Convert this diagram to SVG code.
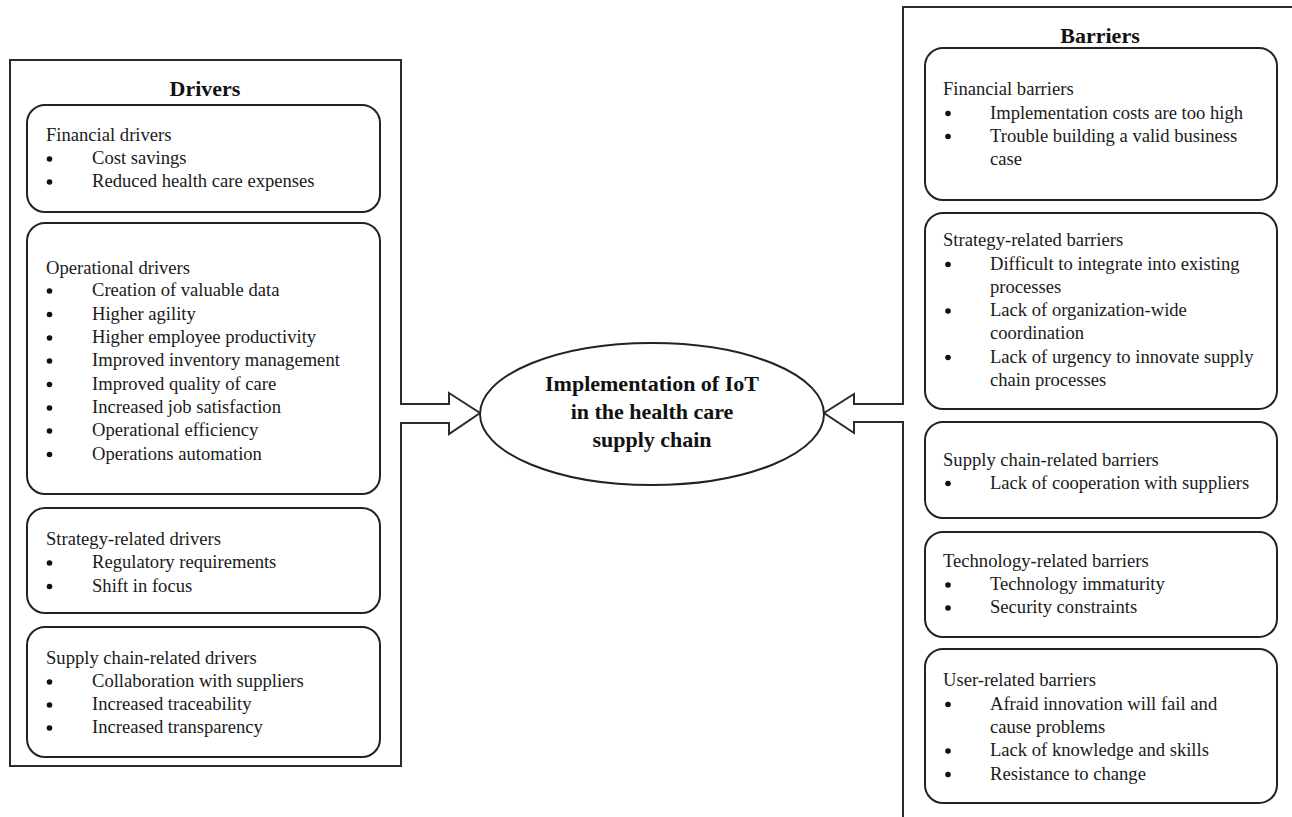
<svg xmlns="http://www.w3.org/2000/svg" width="1292" height="817" viewBox="0 0 1292 817">
<style>
.bg{fill:#ffffff}
.outer{fill:none;stroke:#2b2b2b;stroke-width:2}
.box{fill:#ffffff;stroke:#222;stroke-width:2}
.ell{fill:#ffffff;stroke:#222;stroke-width:2}
.b{fill:#111}
.t{font-family:"Liberation Serif","Times New Roman",serif;font-size:18.6px;fill:#1a1a1a}
.h{font-family:"Liberation Serif","Times New Roman",serif;font-size:22px;font-weight:bold;fill:#111;text-anchor:middle}
</style>
<rect class="bg" x="0" y="0" width="1292" height="817"/>
<g id="connectors">
<path id="drivers-frame" class="outer" d="M10,60 H401 V404 H449 V393 L480,413 L449,434 V423 H401 V766 H10 Z"/>
<path id="barriers-frame" class="outer" d="M1300,7 H903 V404 H854 V394 L824,413 L854,433 V422 H903 V825"/>
</g>
<g id="center-node">
<ellipse class="ell" cx="652" cy="414" rx="172" ry="71"/>
<text class="h" x="652" y="391">Implementation of IoT</text>
<text class="h" x="652" y="419">in the health care</text>
<text class="h" x="652" y="447">supply chain</text>
</g>
<g id="drivers-title"><text class="h" x="205" y="96">Drivers</text></g>
<g id="barriers-title"><text class="h" x="1100" y="43">Barriers</text></g>

<g id="financial-drivers">
<rect class="box" x="27" y="105" width="353" height="107" rx="18"/>
<text class="t" x="46" y="141">Financial drivers</text>
<circle class="b" cx="49.5" cy="159" r="2.8"/><text class="t" x="92" y="164">Cost savings</text>
<circle class="b" cx="49.5" cy="182" r="2.8"/><text class="t" x="92" y="187">Reduced health care expenses</text>
</g>
<g id="operational-drivers">
<rect class="box" x="27" y="223" width="353" height="271" rx="18"/>
<text class="t" x="46" y="274">Operational drivers</text>
<circle class="b" cx="49.5" cy="291" r="2.8"/><text class="t" x="92" y="296">Creation of valuable data</text>
<circle class="b" cx="49.5" cy="314.5" r="2.8"/><text class="t" x="92" y="319.5">Higher agility</text>
<circle class="b" cx="49.5" cy="338" r="2.8"/><text class="t" x="92" y="343">Higher employee productivity</text>
<circle class="b" cx="49.5" cy="361" r="2.8"/><text class="t" x="92" y="366">Improved inventory management</text>
<circle class="b" cx="49.5" cy="384.5" r="2.8"/><text class="t" x="92" y="389.5">Improved quality of care</text>
<circle class="b" cx="49.5" cy="408" r="2.8"/><text class="t" x="92" y="413">Increased job satisfaction</text>
<circle class="b" cx="49.5" cy="431" r="2.8"/><text class="t" x="92" y="436">Operational efficiency</text>
<circle class="b" cx="49.5" cy="454.5" r="2.8"/><text class="t" x="92" y="459.5">Operations automation</text>
</g>
<g id="strategy-drivers">
<rect class="box" x="27" y="508" width="353" height="105" rx="18"/>
<text class="t" x="46" y="545">Strategy-related drivers</text>
<circle class="b" cx="49.5" cy="563" r="2.8"/><text class="t" x="92" y="568">Regulatory requirements</text>
<circle class="b" cx="49.5" cy="586.5" r="2.8"/><text class="t" x="92" y="591.5">Shift in focus</text>
</g>
<g id="supply-chain-drivers">
<rect class="box" x="27" y="627" width="353" height="130" rx="18"/>
<text class="t" x="46" y="663.5">Supply chain-related drivers</text>
<circle class="b" cx="49.5" cy="682" r="2.8"/><text class="t" x="92" y="687">Collaboration with suppliers</text>
<circle class="b" cx="49.5" cy="705" r="2.8"/><text class="t" x="92" y="710">Increased traceability</text>
<circle class="b" cx="49.5" cy="728" r="2.8"/><text class="t" x="92" y="733">Increased transparency</text>
</g>

<g id="financial-barriers">
<rect class="box" x="925" y="48" width="352" height="152" rx="18"/>
<text class="t" x="943" y="95">Financial barriers</text>
<circle class="b" cx="948" cy="113.5" r="2.8"/><text class="t" x="990" y="118.5">Implementation costs are too high</text>
<circle class="b" cx="948" cy="136.5" r="2.8"/><text class="t" x="990" y="141.5">Trouble building a valid business</text>
<text class="t" x="990" y="165">case</text>
</g>
<g id="strategy-barriers">
<rect class="box" x="925" y="213" width="352" height="196" rx="18"/>
<text class="t" x="943" y="246">Strategy-related barriers</text>
<circle class="b" cx="948" cy="264.5" r="2.8"/><text class="t" x="990" y="269.5">Difficult to integrate into existing</text>
<text class="t" x="990" y="292.5">processes</text>
<circle class="b" cx="948" cy="311" r="2.8"/><text class="t" x="990" y="316">Lack of organization-wide</text>
<text class="t" x="990" y="339">coordination</text>
<circle class="b" cx="948" cy="357.5" r="2.8"/><text class="t" x="990" y="362.5">Lack of urgency to innovate supply</text>
<text class="t" x="990" y="386">chain processes</text>
</g>
<g id="supply-chain-barriers">
<rect class="box" x="925" y="422" width="352" height="96" rx="18"/>
<text class="t" x="943" y="465.5">Supply chain-related barriers</text>
<circle class="b" cx="948" cy="483.5" r="2.8"/><text class="t" x="990" y="488.5">Lack of cooperation with suppliers</text>
</g>
<g id="technology-barriers">
<rect class="box" x="925" y="532" width="352" height="105" rx="18"/>
<text class="t" x="943" y="567">Technology-related barriers</text>
<circle class="b" cx="948" cy="585" r="2.8"/><text class="t" x="990" y="590">Technology immaturity</text>
<circle class="b" cx="948" cy="608" r="2.8"/><text class="t" x="990" y="613">Security constraints</text>
</g>
<g id="user-barriers">
<rect class="box" x="925" y="649" width="352" height="154" rx="18"/>
<text class="t" x="943" y="686">User-related barriers</text>
<circle class="b" cx="948" cy="704.5" r="2.8"/><text class="t" x="990" y="709.5">Afraid innovation will fail and</text>
<text class="t" x="990" y="732.5">cause problems</text>
<circle class="b" cx="948" cy="751" r="2.8"/><text class="t" x="990" y="756">Lack of knowledge and skills</text>
<circle class="b" cx="948" cy="774.5" r="2.8"/><text class="t" x="990" y="779.5">Resistance to change</text>
</g>
</svg>
